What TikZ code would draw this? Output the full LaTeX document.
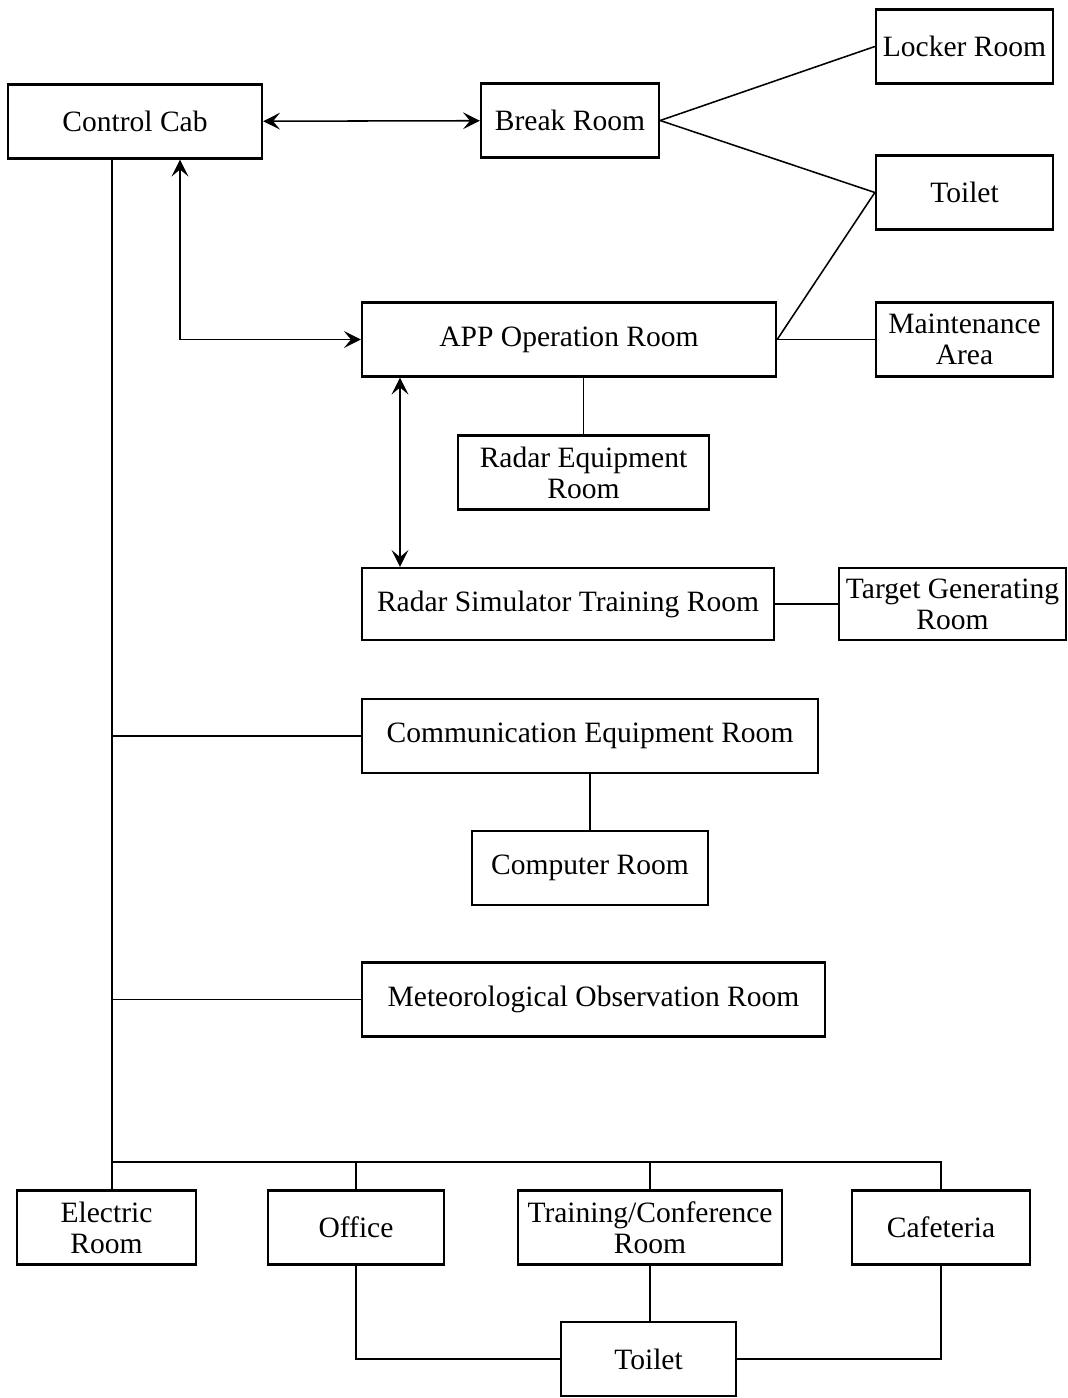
\documentclass[tikz,border=0pt]{standalone}
\usepackage{fontspec}
\setmainfont{Liberation Serif}
\usepackage{tikz}
\usetikzlibrary{arrows.meta,positioning}

\begin{document}
\begin{tikzpicture}[x=0.0125cm,y=-0.0125cm,>={Stealth[length=6pt,width=6pt,inset=2.5pt]}]
	\tikzset{room/.style={draw,line width=0.8pt,inner sep=1pt,align=center,minimum height=0.925cm,font=\fontsize{10.5}{11}\selectfont}}
	\tikzset{link/.style={line width=0.55pt}}
	\useasboundingbox (0,0) rectangle (1068,1398);

	%% Upper rooms
	\node[room,minimum width=3.175cm] (cab) at (135,121.5) {Control Cab};
	\node[room,minimum width=2.225cm] (brk) at (570,120.5) {Break Room};
	\node[room,minimum width=2.2125cm] (lck) at (964.5,46.5) {Locker Room};
	\node[room,minimum width=2.2125cm] (wc1) at (964.5,192.5) {Toilet};
	\node[room,minimum width=5.175cm] (app) at (569,339.5) {APP Operation Room};
	\node[room,minimum width=2.2125cm] (mnt) at (964.5,339.5) {Maintenance\\Area};
	\node[room,minimum width=3.1375cm] (req) at (583.5,472.5) {Radar Equipment\\Room};
	\node[room,minimum width=5.15cm,minimum height=0.9cm] (sim) at (568,604) {Radar Simulator Training Room};
	\node[room,minimum width=2.8375cm,minimum height=0.9cm] (tgt) at (952.5,604) {Target Generating\\Room};
	\node[room,minimum width=5.7cm] (com) at (590,736) {Communication Equipment Room};
	\node[room,minimum width=2.95cm] (cmp) at (590,868) {Computer Room};
	\node[room,minimum width=5.7875cm] (met) at (593.5,999.5) {Meteorological Observation Room};

	%% Lower rooms
	\node[room,minimum width=2.2375cm] (elc) at (106.5,1227.5) {Electric\\Room};
	\node[room,minimum width=2.2cm] (off) at (356,1227.5) {Office};
	\node[room,minimum width=3.3cm] (trn) at (650,1227.5) {Training/Conference\\Room};
	\node[room,minimum width=2.225cm] (caf) at (941,1227.5) {Cafeteria};
	\node[room,minimum width=2.1875cm] (wc2) at (648.5,1359) {Toilet};

	\coordinate (tap) at (180,0);
	\coordinate (ax) at (400,0);
	\coordinate (trunk) at (112,1162);

	\path[<->,link]
		(cab) edge (brk);
	\draw[<->,link] (cab.south -| tap) |- (app.west);
	\draw[<->,link] (app.south -| ax) -- (sim.north -| ax);
	\path[link]
		(brk.east) edge (lck.west)
		(brk.east) edge (wc1.west)
		(app.east) edge (wc1.west)
		(app.east) edge (mnt.west)
		(sim.east) edge (tgt.west);
	\draw[link] (app.south -| req.north) -- (req.north);
	\draw[link] (com.south -| cmp.north) -- (cmp.north);

	%% Trunk line
	\draw[link] (cab.south -| trunk) -- (trunk) -| (caf.north);
	\draw[link] (com.west) -- (com.west -| trunk);
	\draw[link] (met.west) -- (met.west -| trunk);
	\draw[link] (trunk) -- (elc.north -| trunk);
	\draw[link] (off.north) -- (off.north |- trunk);
	\draw[link] (trn.north) -- (trn.north |- trunk);
	\draw[link] (off.south) |- (wc2.west);
	\draw[link] (caf.south) |- (wc2.east);
	\draw[link] (trn.south) -- (trn.south |- wc2.north);
\end{tikzpicture}
\end{document}
